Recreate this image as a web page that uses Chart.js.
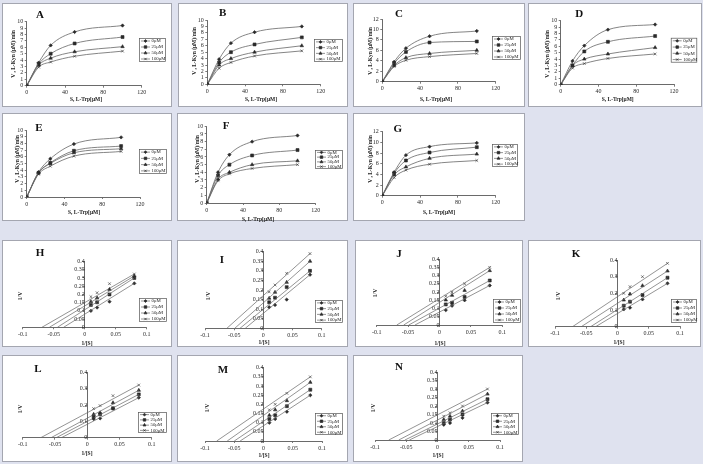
<!DOCTYPE html>
<html><head><meta charset="utf-8">
<script src="https://cdn.jsdelivr.net/npm/chart.js@4/dist/chart.umd.min.js"></script>
<style>
html,body{margin:0;padding:0}
body{background:#dfe2ef;width:703px;height:464px;overflow:hidden;position:relative;font-family:'Liberation Serif',serif}
.panel{position:absolute;background:#fff;border:1px solid #a4a6b0;box-sizing:border-box}
.panel canvas{position:absolute;left:-1px;top:-1px}
.lt{position:absolute;font-weight:bold;font-size:11px;color:#111;transform:translate(-50%,-50%);line-height:1}
.ax{position:absolute;font-weight:bold;font-size:5.5px;color:#222;white-space:nowrap;line-height:1}
.ax.h{transform:translate(-50%,-50%)}
.ax.v{transform:translate(-50%,-50%) rotate(-90deg)}
</style></head><body>
<script>
// ---------- DATA ----------
const concentrations = ['0μM', '25μM', '50μM', '100μM'];
const substrate = [0, 12.5, 25, 50, 100];          // S, L-Trp [μM]
const xTicksMM = [0, 40, 80, 120];
const inverseS = [0.01, 0.02, 0.04, 0.08];         // 1/[S]
const xTicksLB = [-0.1, -0.05, 0, 0.05, 0.1];

// Michaelis-Menten rates V (series order: 0, 25, 50, 100 μM)
const rateA = [[0, 3.6, 6.3, 8.4, 9.4], [0, 3.4, 5.0, 6.6, 7.6], [0, 3.2, 4.3, 5.3, 6.1], [0, 2.9, 3.7, 4.6, 5.4]];
const rateB = [[0, 3.9, 6.4, 8.1, 9.0], [0, 3.4, 5.0, 6.2, 7.3], [0, 3.0, 4.0, 5.0, 6.0], [0, 2.5, 3.4, 4.4, 5.2]];
const rateC = [[0, 3.8, 6.4, 8.7, 9.7], [0, 3.5, 5.7, 7.5, 7.7], [0, 3.1, 4.6, 5.4, 6.0], [0, 2.9, 4.1, 4.8, 5.4]];
const rateD = [[0, 3.7, 6.1, 8.6, 9.4], [0, 3.0, 5.2, 6.7, 7.6], [0, 3.0, 4.0, 4.8, 5.8], [0, 2.6, 3.3, 4.1, 4.8]];
const rateE = [[0, 3.7, 5.7, 7.9, 8.9], [0, 3.6, 5.1, 6.9, 7.6], [0, 3.6, 5.0, 6.6, 7.2], [0, 3.4, 4.6, 6.1, 6.8]];
const rateF = [[0, 4.0, 6.3, 8.0, 8.8], [0, 3.6, 5.0, 6.2, 6.9], [0, 3.1, 4.0, 5.0, 5.5], [0, 2.9, 3.8, 4.5, 5.0]];
const rateG = [[0, 4.4, 7.6, 9.2, 9.9], [0, 4.2, 6.6, 8.1, 9.1], [0, 3.9, 5.4, 7.0, 7.8], [0, 3.4, 4.8, 5.9, 6.6]];
const yMaxMM = {A: 10, B: 10, C: 12, D: 10, E: 10, F: 10, G: 12};
const yStepMM = {A: 1, B: 1, C: 2, D: 1, E: 1, F: 1, G: 2};

// Lineweaver-Burk 1/V points at inverseS
const invVH = [[0.100, 0.120, 0.156, 0.267], [0.136, 0.152, 0.200, 0.300], [0.156, 0.178, 0.230, 0.312], [0.186, 0.210, 0.265, 0.324]];
const invVI = [[0.110, 0.122, 0.150, 0.280], [0.136, 0.160, 0.215, 0.300], [0.157, 0.188, 0.240, 0.350], [0.190, 0.226, 0.287, 0.390]];
const invVJ = [[0.090, 0.117, 0.150, 0.240], [0.125, 0.135, 0.170, 0.270], [0.152, 0.180, 0.210, 0.330], [0.175, 0.200, 0.250, 0.350]];
const invVK = [[0.104, 0.114, 0.164, 0.260], [0.126, 0.150, 0.190, 0.294], [0.160, 0.196, 0.246, 0.334], [0.200, 0.240, 0.300, 0.380]];
const invVL = [[0.114, 0.118, 0.178, 0.245], [0.127, 0.143, 0.180, 0.265], [0.143, 0.153, 0.214, 0.290], [0.178, 0.196, 0.257, 0.322]];
const invVM = [[0.100, 0.120, 0.160, 0.250], [0.120, 0.140, 0.190, 0.280], [0.140, 0.170, 0.220, 0.320], [0.170, 0.200, 0.260, 0.350]];
const invVN = [[0.090, 0.100, 0.130, 0.220], [0.100, 0.120, 0.150, 0.240], [0.120, 0.140, 0.170, 0.270], [0.140, 0.160, 0.200, 0.300]];
// fitted lines: x-intercept (-1/Km) and value at 1/[S] = 0.08
const xIntH = [-0.034, -0.044, -0.057, -0.069], lineEndH = [0.267, 0.300, 0.312, 0.324];
const xIntI = [-0.031, -0.040, -0.049, -0.0625], lineEndI = [0.280, 0.300, 0.350, 0.390];
const xIntJ = [-0.039, -0.049, -0.057, -0.068], lineEndJ = [0.240, 0.270, 0.330, 0.350];
const xIntK = [-0.035, -0.043, -0.058, -0.072], lineEndK = [0.260, 0.294, 0.334, 0.380];
const xIntL = [-0.040, -0.048, -0.056, -0.072], lineEndL = [0.245, 0.265, 0.290, 0.322];
const xIntM = [-0.040, -0.050, -0.062, -0.080], lineEndM = [0.250, 0.280, 0.320, 0.350];
const xIntN = [-0.045, -0.052, -0.062, -0.078], lineEndN = [0.220, 0.240, 0.270, 0.300];
const yStepLB = {H: 0.05, I: 0.05, J: 0.05, K: 0.1, L: 0.1, M: 0.05, N: 0.05};

// ---------- STYLE / LAYOUT ----------
const markers = [
  {style: 'rectRot', r: 1.7},
  {style: 'rect', r: 2.1},
  {style: 'triangle', r: 2.0},
  {style: 'crossRot', r: 1.9}
];
const INK = '#2a2a2a', LINE = '#666';
const tickFont = {family: 'Liberation Serif', size: 6};

const mmPanels = [
  {id: 'A', data: rateA, box: [2, 3, 172, 107], area: [24.7, 18.7, 139.7, 82.7], lt: [37, 10], yt: [11.3, 50], xt: [83, 96], lg: [137, 35, 164, 59]},
  {id: 'B', data: rateB, box: [178, 3, 348, 107], area: [29.3, 17, 142.7, 81.3], lt: [43.7, 8], yt: [16, 47], xt: [82, 96], lg: [136, 36, 165, 59]},
  {id: 'C', data: rateC, box: [353, 3, 525, 107], area: [29.3, 16, 142.7, 78.7], lt: [45, 8.7], yt: [17, 47], xt: [82, 95.7], lg: [139, 33, 168, 57]},
  {id: 'D', data: rateD, box: [528, 3, 702, 107], area: [32.7, 17.7, 146, 81.7], lt: [50.3, 8.7], yt: [18.7, 50], xt: [88.7, 96.3], lg: [142.7, 34.7, 169.3, 59.7]},
  {id: 'E', data: rateE, box: [2, 113, 172, 221], area: [24.7, 17, 138, 84], lt: [36, 13], yt: [14.7, 45], xt: [81, 98.7], lg: [137, 36, 165, 61]},
  {id: 'F', data: rateF, box: [177, 113, 348, 221], area: [29.7, 13.3, 138.7, 90], lt: [48, 11], yt: [19.7, 45], xt: [80, 105.5], lg: [138, 37, 166, 56]},
  {id: 'G', data: rateG, box: [353, 113, 525, 221], area: [29.3, 18.7, 142.7, 82.7], lt: [43.7, 13.7], yt: [17, 45], xt: [85, 98.7], lg: [139, 31, 165, 54]}
];
const lbPanels = [
  {id: 'H', data: invVH, xi: xIntH, le: lineEndH, box: [2, 240, 172, 347], area: [20.7, 21.5, 144.7, 87.3], lt: [37, 11], yt: [18, 55], xt: [84, 102.5], lg: [137, 58, 165, 82]},
  {id: 'I', data: invVI, xi: xIntI, le: lineEndI, box: [177, 240, 348, 347], area: [28, 11.7, 144.7, 88.3], lt: [44, 18], yt: [30.7, 55], xt: [86, 101.7], lg: [138, 60, 166, 83]},
  {id: 'J', data: invVJ, xi: xIntJ, le: lineEndJ, box: [355, 240, 523, 347], area: [21.7, 19.1, 147.3, 85], lt: [43, 11.7], yt: [20, 51.7], xt: [84, 102.5], lg: [138, 59, 166, 83]},
  {id: 'K', data: invVK, xi: xIntK, le: lineEndK, box: [528, 240, 701, 347], area: [27, 20, 152, 86.7], lt: [47, 12], yt: [30, 55], xt: [90, 101.7], lg: [143, 59, 169, 83]},
  {id: 'L', data: invVL, xi: xIntL, le: lineEndL, box: [2, 355, 172, 462], area: [20.7, 17.3, 149.7, 82.7], lt: [35, 12], yt: [18, 53], xt: [84, 98], lg: [136, 57, 165, 78]},
  {id: 'M', data: invVM, xi: xIntM, le: lineEndM, box: [177, 355, 348, 462], area: [28, 12.7, 145, 86], lt: [45, 13], yt: [30, 52], xt: [86, 100], lg: [138, 58, 166, 80]},
  {id: 'N', data: invVN, xi: xIntN, le: lineEndN, box: [353, 355, 523, 462], area: [22, 17, 147, 85], lt: [45, 10], yt: [20, 52], xt: [84, 100], lg: [138, 58, 166, 80]}
];

// ---------- HELPERS ----------
function drawMarker(ctx, m, x, y) {
  const opts = {pointStyle: m.style, radius: m.r, rotation: 0, borderWidth: 0.8};
  if (Chart.helpers && Chart.helpers.drawPoint) { Chart.helpers.drawPoint(ctx, opts, x, y); }
}
const legendPlugin = {
  id: 'boxLegend',
  afterDraw(chart) {
    const lg = chart.options.plugins.boxLegend;
    if (!lg) return;
    const [x0, y0, x1, y1] = lg.rect;
    const ctx = chart.ctx;
    ctx.save();
    ctx.fillStyle = '#fff';
    ctx.fillRect(x0, y0, x1 - x0, y1 - y0);
    ctx.strokeStyle = '#555'; ctx.lineWidth = 0.7;
    ctx.strokeRect(x0 + 0.5, y0 + 0.5, x1 - x0 - 1, y1 - y0 - 1);
    const n = concentrations.length, rowH = (y1 - y0) / n;
    ctx.font = '4.8px "Liberation Serif"';
    ctx.textBaseline = 'middle';
    concentrations.forEach((c, i) => {
      const cy = y0 + rowH * (i + 0.5);
      ctx.strokeStyle = LINE; ctx.lineWidth = 0.7;
      ctx.beginPath(); ctx.moveTo(x0 + 2, cy); ctx.lineTo(x0 + 11, cy); ctx.stroke();
      ctx.fillStyle = INK; ctx.strokeStyle = INK;
      drawMarker(ctx, {style: markers[i].style, r: markers[i].r * 0.85}, x0 + 6.5, cy);
      ctx.fillStyle = '#222';
      ctx.fillText(c, x0 + 12.5, cy);
    });
    ctx.restore();
  }
};

function addText(parent, cls, text, pos) {
  const d = document.createElement('div');
  d.className = cls; d.textContent = text;
  d.style.left = pos[0] + 'px'; d.style.top = pos[1] + 'px';
  parent.appendChild(d);
}

function makePanel(p) {
  const [bx0, by0, bx1, by1] = p.box;
  const W = bx1 - bx0, H = by1 - by0;
  const div = document.createElement('div');
  div.className = 'panel';
  div.style.left = bx0 + 'px'; div.style.top = by0 + 'px';
  div.style.width = W + 'px'; div.style.height = H + 'px';
  document.body.appendChild(div);
  const cv = document.createElement('canvas');
  cv.width = W; cv.height = H;
  cv.style.width = W + 'px'; cv.style.height = H + 'px';
  div.appendChild(cv);
  return {div, cv, W, H};
}

function axisCommon() {
  return {
    grid: {drawOnChartArea: false, drawTicks: true, tickLength: 2, color: '#444', lineWidth: 0.7},
    border: {color: '#444', width: 0.8},
    ticks: {font: tickFont, color: INK, padding: 1.5, autoSkip: false, maxRotation: 0}
  };
}

// ---------- MICHAELIS-MENTEN PANELS ----------
mmPanels.forEach(p => {
  const {div, cv, W, H} = makePanel(p);
  const [l, t, r, b] = p.area;
  const datasets = p.data.map((vals, i) => ({
    label: concentrations[i],
    data: substrate.map((s, j) => ({x: s, y: vals[j]})),
    borderColor: LINE, borderWidth: 0.8,
    pointStyle: markers[i].style, pointRadius: markers[i].r,
    pointBackgroundColor: INK, pointBorderColor: INK, pointBorderWidth: 0.6,
    cubicInterpolationMode: 'monotone', fill: false
  }));
  const xs = axisCommon(), ys = axisCommon();
  new Chart(cv, {
    type: 'line',
    data: {datasets},
    options: {
      responsive: false, animation: false, events: [],
      layout: {padding: {left: 0, top: t, right: W - r, bottom: 0}},
      plugins: {legend: {display: false}, tooltip: {enabled: false}, boxLegend: {rect: p.lg}},
      scales: {
        x: Object.assign(xs, {type: 'linear', min: 0, max: 120,
          ticks: Object.assign(xs.ticks, {stepSize: 40}),
          afterBuildTicks(s) { s.ticks = xTicksMM.map(v => ({value: v})); },
          afterFit(s) { s.height = H - b; }}),
        y: Object.assign(ys, {type: 'linear', min: 0, max: yMaxMM[p.id],
          ticks: Object.assign(ys.ticks, {stepSize: yStepMM[p.id]}),
          afterFit(s) { s.width = l; }})
      }
    },
    plugins: [legendPlugin]
  });
  addText(div, 'lt', p.id, p.lt);
  addText(div, 'ax v', 'V , L-Kyn (μM)/min', p.yt);
  addText(div, 'ax h', 'S, L-Trp[μM]', p.xt);
});

// ---------- LINEWEAVER-BURK PANELS ----------
lbPanels.forEach(p => {
  const {div, cv, W, H} = makePanel(p);
  const [l, t, r, b] = p.area;
  const datasets = [];
  p.data.forEach((vals, i) => {
    datasets.push({
      label: concentrations[i] + ' fit', type: 'line',
      data: [{x: p.xi[i], y: 0}, {x: inverseS[inverseS.length - 1], y: p.le[i]}],
      borderColor: LINE, borderWidth: 0.7, pointRadius: 0, fill: false
    });
    datasets.push({
      label: concentrations[i], type: 'scatter',
      data: inverseS.map((s, j) => ({x: s, y: vals[j]})),
      pointStyle: markers[i].style, pointRadius: markers[i].r,
      pointBackgroundColor: INK, pointBorderColor: INK, pointBorderWidth: 0.6, showLine: false
    });
  });
  const xs = axisCommon(), ys = axisCommon();
  const step = yStepLB[p.id];
  new Chart(cv, {
    type: 'scatter',
    data: {datasets},
    options: {
      responsive: false, animation: false, events: [],
      layout: {padding: {left: l, top: t, right: W - r, bottom: 0}},
      plugins: {legend: {display: false}, tooltip: {enabled: false}, boxLegend: {rect: p.lg}},
      scales: {
        x: Object.assign(xs, {type: 'linear', min: -0.1, max: 0.1,
          afterBuildTicks(s) { s.ticks = xTicksLB.map(v => ({value: v})); },
          ticks: Object.assign(xs.ticks, {callback: v => String(parseFloat(Number(v).toFixed(2)))}),
          afterFit(s) { s.height = H - b; }}),
        y: Object.assign(ys, {type: 'linear', min: 0, max: 0.4, position: {x: 0},
          ticks: Object.assign(ys.ticks, {stepSize: step, callback: v => String(parseFloat(Number(v).toFixed(2)))})})
      }
    },
    plugins: [legendPlugin]
  });
  addText(div, 'lt', p.id, p.lt);
  addText(div, 'ax v', '1/V', p.yt);
  addText(div, 'ax h', '1/[S]', p.xt);
});
</script>
</body></html>
